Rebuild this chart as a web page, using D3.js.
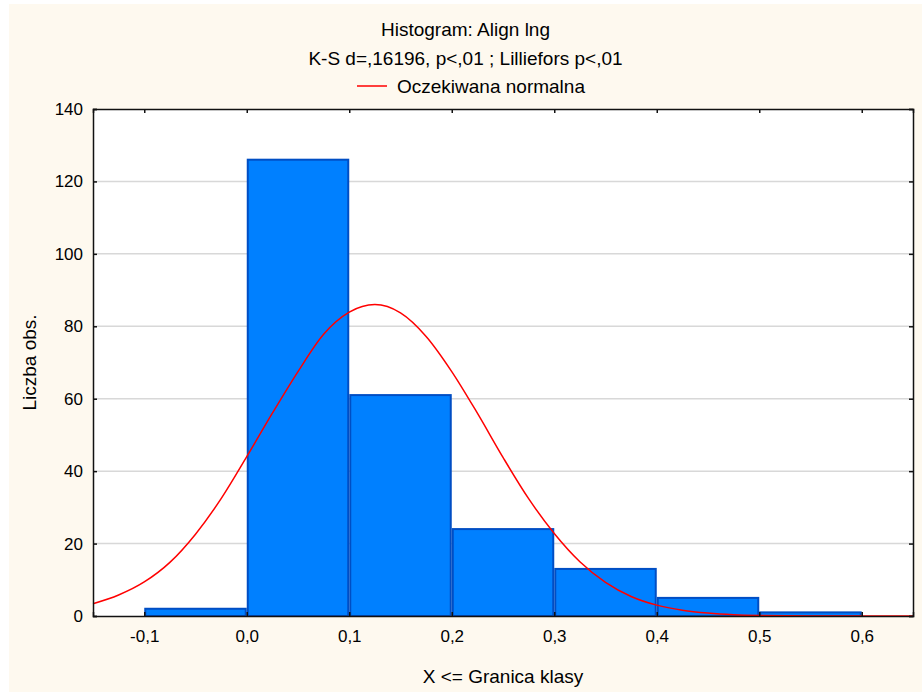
<!DOCTYPE html>
<html>
<head>
<meta charset="utf-8">
<script src="https://cdn.jsdelivr.net/npm/d3@7"></script>
<style>
  body { margin: 0; background: #ffffff; }
  text { font-family: "Liberation Sans", Arial, sans-serif; fill: #000; }
</style>
</head>
<body>
<div id="chart"></div>
<script>
// bin edges and counts
var binStarts = [-0.1, 0.0, 0.1, 0.2, 0.3, 0.4, 0.5];
var binWidth = 0.1;
var counts = [2, 126, 61, 24, 13, 5, 1];

// expected normal curve
var curveX = [-0.15, -0.125, -0.1, -0.075, -0.05, -0.025, 0.0, 0.025, 0.05, 0.075, 0.1, 0.125,
  0.15, 0.175, 0.2, 0.225, 0.25, 0.275, 0.3, 0.325, 0.35, 0.375, 0.4, 0.425, 0.45, 0.475,
  0.5, 0.55, 0.6, 0.65];
var curveY = [3.4, 5.8, 9.4, 14.8, 22.6, 32.4, 44.0, 56.0, 67.5, 77.8, 83.9, 86.0,
  83.7, 77.2, 67.5, 56.0, 43.8, 32.4, 22.8, 15.0, 9.3, 5.4, 3.0, 1.6, 0.8, 0.35,
  0.15, 0.02, 0, 0];

var xTicks = [-0.1, 0.0, 0.1, 0.2, 0.3, 0.4, 0.5, 0.6];
var yTicks = [0, 20, 40, 60, 80, 100, 120, 140];

var titleLines = ["Histogram: Align lng", "K-S d=,16196, p<,01 ; Lilliefors p<,01"];
var legendLabel = "Oczekiwana normalna";
var xLabel = "X <= Granica klasy";
var yLabel = "Liczba obs.";

var svgWidth = 922;
var svgHeight = 693;
var margin = { top: 109, right: 9, bottom: 77, left: 93 };
var width = svgWidth - margin.left - margin.right;
var height = svgHeight - margin.top - margin.bottom;

var svg = d3.select("#chart").append("svg")
  .attr("width", svgWidth)
  .attr("height", svgHeight);

// cream panel
svg.append("rect")
  .attr("x", 9).attr("y", 4)
  .attr("width", svgWidth - 9).attr("height", svgHeight - 5)
  .attr("fill", "#fef9ef");

var chartGroup = svg.append("g")
  .attr("transform", `translate(${margin.left}, ${margin.top})`);

var x = d3.scaleLinear().domain([-0.15, 0.65]).range([0, width]);
var y = d3.scaleLinear().domain([0, 140]).range([height, 0]);

chartGroup.append("rect")
  .attr("width", width).attr("height", height)
  .attr("fill", "#ffffff");

// gridlines
chartGroup.append("g")
  .selectAll("line")
  .data(yTicks.slice(1, -1))
  .enter()
  .append("line")
  .attr("x1", 0).attr("x2", width)
  .attr("y1", d => y(d)).attr("y2", d => y(d))
  .attr("stroke", "#d8d8d8")
  .attr("stroke-width", 1.5);

// bars
chartGroup.selectAll(".bar")
  .data(counts)
  .enter()
  .append("rect")
  .attr("class", "bar")
  .attr("x", (d, i) => x(binStarts[i]) + 1)
  .attr("width", (d, i) => x(binStarts[i] + binWidth) - x(binStarts[i]) - 2)
  .attr("y", d => y(d))
  .attr("height", d => y(0) - y(d))
  .attr("fill", "#0080ff")
  .attr("stroke", "#004ec4")
  .attr("stroke-width", 2);

// normal curve
var line = d3.line()
  .x((d, i) => x(curveX[i]))
  .y(d => y(d))
  .curve(d3.curveMonotoneX);

chartGroup.append("path")
  .datum(curveY)
  .attr("d", line)
  .attr("fill", "none")
  .attr("stroke", "#ff0000")
  .attr("stroke-width", 1.5);

// axes: all ticks point inward
var leftAxis = d3.axisLeft(y).tickValues(yTicks).tickSize(-4).tickPadding(10).tickFormat(d3.format("d"));
var rightAxis = d3.axisRight(y).tickValues(yTicks).tickSize(-4).tickFormat("");
var bottomAxis = d3.axisBottom(x).tickValues(xTicks).tickSize(-4).tickPadding(14)
  .tickFormat(d => d3.format(".1f")(d).replace(".", ",").replace("−", "-"));
var topAxis = d3.axisTop(x).tickValues(xTicks).tickSize(-4).tickFormat("");

function styleAxis(g) {
  g.select(".domain").attr("stroke", "#111").attr("stroke-width", 1.5);
  g.selectAll(".tick line").attr("stroke", "#111").attr("stroke-width", 1.5);
  g.selectAll("text")
    .style("font-family", "'Liberation Sans', Arial, sans-serif")
    .style("font-size", "17px")
    .attr("fill", "#000");
}

chartGroup.append("g").call(leftAxis).call(styleAxis);
chartGroup.append("g").attr("transform", `translate(${width}, 0)`).call(rightAxis).call(styleAxis);
chartGroup.append("g").attr("transform", `translate(0, ${height})`).call(bottomAxis).call(styleAxis);
chartGroup.append("g").call(topAxis).call(styleAxis);

// titles
var cx = (9 + svgWidth) / 2;
svg.selectAll(".title")
  .data(titleLines)
  .enter()
  .append("text")
  .attr("class", "title")
  .attr("x", cx)
  .attr("y", (d, i) => 36 + i * 29)
  .attr("text-anchor", "middle")
  .style("font-size", "19px")
  .text(d => d);

// legend
var legend = svg.append("g").attr("transform", "translate(357, 86)");
legend.append("line")
  .attr("x1", 0).attr("x2", 30)
  .attr("stroke", "#ff0000").attr("stroke-width", 1.5);
legend.append("text")
  .attr("x", 40).attr("y", 6.5)
  .style("font-size", "19px")
  .text(legendLabel);

// axis titles
svg.append("text")
  .attr("x", margin.left + width / 2)
  .attr("y", 683)
  .attr("text-anchor", "middle")
  .style("font-size", "19px")
  .text(xLabel);

svg.append("text")
  .attr("transform", `translate(36, ${margin.top + height / 2}) rotate(-90)`)
  .attr("text-anchor", "middle")
  .style("font-size", "19px")
  .text(yLabel);
</script>
</body>
</html>
